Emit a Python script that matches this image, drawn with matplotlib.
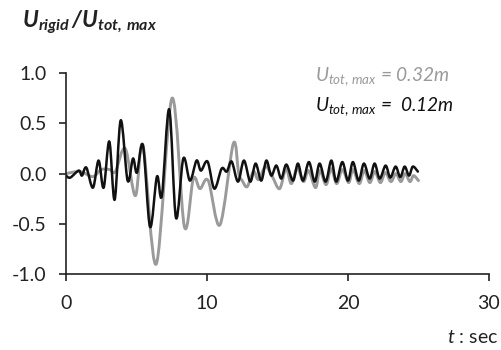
import matplotlib
matplotlib.use("Agg")
import matplotlib.pyplot as plt
from matplotlib.path import Path
from matplotlib.patches import PathPatch

# --- data ---
t_black = [0.0, 0.3, 0.9, 1.13, 1.44, 1.91, 2.31, 2.67, 3.07, 3.45, 3.88, 4.37, 4.75, 5.03, 5.46,
           5.96, 6.45, 6.8, 7.32, 7.8, 8.32, 8.79, 9.26, 9.57, 10.04, 10.52, 11.04, 11.4, 11.75,
           12.2, 12.62, 13.07, 13.45, 13.85, 14.21, 14.56, 14.92, 15.27, 15.63, 16.10, 16.45,
           16.81, 17.23, 17.64, 17.99, 18.42, 18.82, 19.17, 19.60, 20.0, 20.35, 20.76, 21.13,
           21.54, 21.89, 22.25, 22.67, 23.0, 23.38, 23.71, 24.02, 24.33, 24.6, 24.96]
v_black = [-0.02, -0.04, 0.03, -0.02, 0.06, -0.14, 0.13, -0.14, 0.32, -0.26, 0.53, -0.07, 0.15, 0.01, 0.28,
           -0.53, -0.03, -0.22, 0.64, -0.44, 0.15, -0.07, 0.13, 0.03, 0.12, -0.15, 0.05, 0.02, 0.12,
           -0.08, 0.13, -0.08, 0.10, -0.07, 0.13, -0.02, 0.08, -0.05, 0.09, -0.07, 0.10,
           -0.07, 0.115, -0.08, 0.10, -0.08, 0.13, -0.08, 0.115, -0.07, 0.115, -0.07, 0.10,
           -0.05, 0.10, -0.05, 0.08, -0.04, 0.07, -0.035, 0.07, -0.02, 0.07, 0.02]

t_gray = [0.0, 1.0, 1.9, 2.5, 3.1, 3.5, 4.2, 4.92, 5.46, 6.4, 7.52, 8.4, 9.03, 9.5, 10.09, 10.92,
          11.87, 12.25, 12.5, 12.85, 13.3, 13.65, 14.15, 14.6, 15.15, 15.6, 15.98, 16.4, 16.85,
          17.2, 17.7, 18.0, 18.45, 18.8, 19.2, 19.6, 20.05, 20.35, 20.8, 21.15, 21.55, 21.9,
          22.3, 22.65, 23.05, 23.4, 23.75, 24.05, 24.4, 24.65, 25.0]
v_gray = [0.0, 0.02, -0.03, 0.04, 0.04, 0.02, 0.25, -0.22, 0.28, -0.9, 0.75, -0.53, -0.05, -0.15, -0.07, -0.51,
          0.30, 0.0, -0.07, -0.13, 0.02, -0.06, 0.07, -0.02, -0.15, 0.05, -0.10, 0.05, -0.08,
          0.03, -0.14, 0.03, -0.11, 0.05, -0.10, 0.04, -0.09, 0.04, -0.10, 0.03, -0.09, 0.02,
          -0.09, 0.01, -0.08, 0.0, -0.08, 0.0, -0.08, -0.02, -0.07]

x_ticks = [0, 10, 20, 30]
y_ticks = [-1.0, -0.5, 0.0, 0.5, 1.0]
y_tick_labels = ["-1.0", "-0.5", "0.0", "0.5", "1.0"]

plt.rcParams['font.family'] = ['Lato', 'DejaVu Sans']
plt.rcParams['mathtext.fontset'] = 'custom'
plt.rcParams['mathtext.it'] = 'Lato:italic'
plt.rcParams['mathtext.bf'] = 'Lato:italic:bold'
plt.rcParams['mathtext.rm'] = 'Lato'


def smooth_line(ax, xs, ys, **kw):
    """Excel-style smoothed line: cubic Bezier segments through the data points."""
    n = len(xs)
    verts = [(xs[0], ys[0])]
    codes = [Path.MOVETO]
    for i in range(n - 1):
        x0, y0 = xs[max(i - 1, 0)], ys[max(i - 1, 0)]
        x1, y1 = xs[i], ys[i]
        x2, y2 = xs[i + 1], ys[i + 1]
        x3, y3 = xs[min(i + 2, n - 1)], ys[min(i + 2, n - 1)]
        c1 = (x1 + (x2 - x0) / 6.0, y1 + (y2 - y0) / 6.0)
        c2 = (x2 - (x3 - x1) / 6.0, y2 - (y3 - y1) / 6.0)
        verts += [c1, c2, (x2, y2)]
        codes += [Path.CURVE4] * 3
    patch = PathPatch(Path(verts, codes), fill=False, transform=ax.transData,
                      joinstyle='round', capstyle='round', **kw)
    ax.add_patch(patch)


fig = plt.figure(figsize=(5.02, 3.5), dpi=100)
ax = fig.add_axes([0.1315, 0.217, 0.8425, 0.574])

smooth_line(ax, t_gray, v_gray, edgecolor='#9a9a9a', lw=2.1)
smooth_line(ax, t_black, v_black, edgecolor='#111111', lw=1.8)

ax.set_xlim(0, 30)
ax.set_ylim(-1.0, 1.0)
ax.set_xticks(x_ticks)
ax.set_yticks(y_ticks)
ax.set_yticklabels(y_tick_labels)
for s in ['top', 'right']:
    ax.spines[s].set_visible(False)
for s in ['left', 'bottom']:
    ax.spines[s].set_linewidth(1.2)
    ax.spines[s].set_color('#222222')
ax.tick_params(axis='both', direction='out', length=5, width=1.2, color='#222222',
               labelsize=14, labelcolor='#222222')
ax.tick_params(axis='y', pad=9)
ax.tick_params(axis='x', pad=10)

fig.text(0.044, 0.922, r"$\mathbf{U_{rigid}\,/U_{tot,\,max}}$", fontsize=16.5, color='#222222',
         ha='left', va='baseline')
fig.text(0.627, 0.768, r"$U_{tot,\,max}$ = 0.32m", fontsize=13.8, color='#9a9a9a',
         style='italic', ha='left', va='baseline')
fig.text(0.627, 0.683, r"$U_{tot,\,max}$ =  0.12m", fontsize=13.8, color='#111111',
         style='italic', ha='left', va='baseline')
fig.text(0.992, 0.02, "$t$ : sec", fontsize=14, color='#222222', ha='right', va='baseline')

fig.savefig("out.png", dpi=100)
